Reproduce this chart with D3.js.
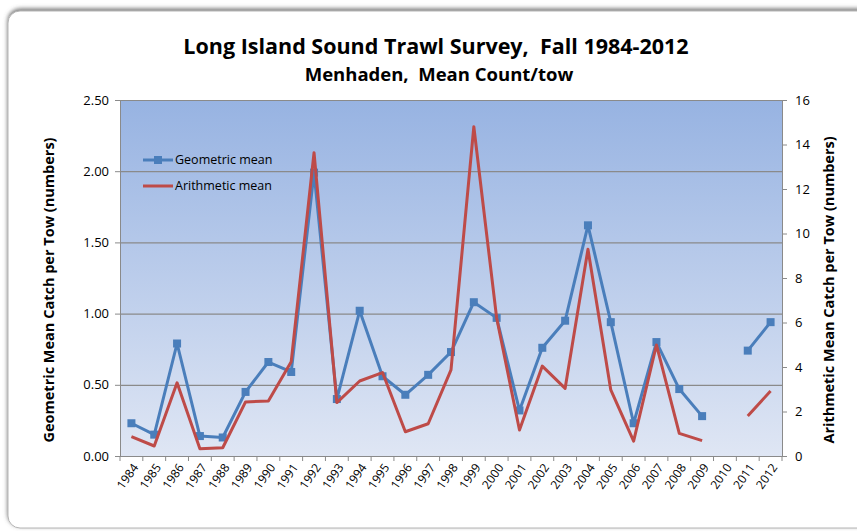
<!DOCTYPE html>
<html>
<head>
<meta charset="utf-8">
<script src="https://cdn.jsdelivr.net/npm/d3@7"></script>
<style>
  body { margin: 0; background: #fff; }
  text { font-family: "Open Sans", "Noto Sans", sans-serif; fill: #000; }
  .keep { white-space: pre; }
</style>
</head>
<body>
<div id="chart"></div>
<script>
// survey years on the category axis
const years = d3.range(1984, 2013).map(String);

// geometric mean catch per tow (left axis), null = no survey
const geoMean = [0.23, 0.15, 0.79, 0.14, 0.13, 0.45, 0.66, 0.59, 1.99, 0.40,
  1.02, 0.56, 0.43, 0.57, 0.73, 1.08, 0.97, 0.32, 0.76, 0.95,
  1.62, 0.94, 0.23, 0.80, 0.47, 0.28, null, 0.74, 0.94];

// arithmetic mean catch per tow (right axis)
const ariMean = [0.87, 0.45, 3.29, 0.33, 0.37, 2.43, 2.47, 4.24, 13.63, 2.40,
  3.37, 3.75, 1.09, 1.45, 3.87, 14.80, 6.20, 1.17, 4.04, 3.04,
  9.29, 2.97, 0.67, 4.99, 1.02, 0.69, null, 1.80, 2.92];

const leftTicks = [0, 0.5, 1, 1.5, 2, 2.5];
const rightTicks = [0, 2, 4, 6, 8, 10, 12, 14, 16];

const W = 857, H = 531;
const margin = {top: 100, right: 75, bottom: 75, left: 120},
  width = W - margin.left - margin.right,
  height = H - margin.top - margin.bottom;

const blue = "#4a7ebb", red = "#be4b48";

var svg = d3.select("#chart").append("svg")
  .attr("width", W).attr("height", H);

var defs = svg.append("defs");
var grad = defs.append("linearGradient").attr("id", "bg")
  .attr("x1", 0).attr("y1", 0).attr("x2", 0).attr("y2", 1);
grad.append("stop").attr("offset", "0%").attr("stop-color", "#97b3e2");
grad.append("stop").attr("offset", "100%").attr("stop-color", "#dfe6f4");

var shadow = defs.append("filter").attr("id", "shadow")
  .attr("x", "-5%").attr("y", "-5%").attr("width", "110%").attr("height", "110%");
shadow.append("feDropShadow").attr("dx", 0).attr("dy", -2)
  .attr("stdDeviation", 2).attr("flood-color", "#666").attr("flood-opacity", 0.9);

// chart frame (runs off the right edge like the source)
svg.append("rect")
  .attr("x", 8).attr("y", 11).attr("width", 880).attr("height", 517)
  .attr("rx", 12).attr("ry", 12)
  .attr("fill", "#fff").attr("stroke", "#b5b5b5").attr("stroke-width", 1)
  .attr("filter", "url(#shadow)");

// titles
svg.append("text").attr("class", "keep").attr("x", 436).attr("y", 54)
  .attr("text-anchor", "middle").style("font-weight", "bold").style("font-size", "21.5px")
  .text("Long Island Sound Trawl Survey,  Fall 1984-2012");
svg.append("text").attr("class", "keep").attr("x", 439).attr("y", 81)
  .attr("text-anchor", "middle").style("font-weight", "bold").style("font-size", "18.5px")
  .text("Menhaden,  Mean Count/tow");

var g = svg.append("g")
  .attr("transform", "translate(" + margin.left + "," + margin.top + ")");

var x = d3.scaleBand().domain(years).range([0, width]);
var xc = function (yr) { return x(yr) + x.bandwidth() / 2; };
var yL = d3.scaleLinear().domain([0, 2.5]).range([height, 0]);
var yR = d3.scaleLinear().domain([0, 16]).range([height, 0]);

// plot background
g.append("rect").attr("width", width).attr("height", height).attr("fill", "url(#bg)");

// gridlines from left axis
g.append("g").attr("class", "grid")
  .call(d3.axisLeft(yL).tickValues(leftTicks).tickSize(-width).tickFormat(""))
  .call(function (s) {
    s.select(".domain").remove();
    s.selectAll("line").attr("stroke", "#8a8a8a").attr("stroke-width", 1.2);
  });

// left axis
g.append("g")
  .call(d3.axisLeft(yL).tickValues(leftTicks).tickSize(5).tickSizeOuter(0).tickPadding(6)
    .tickFormat(d3.format(".2f")))
  .call(function (s) {
    s.selectAll("line, .domain").attr("stroke", "#8a8a8a");
    s.selectAll("text").style("font-size", "13px").style("font-family", "Open Sans");
  });

// right axis
g.append("g").attr("transform", "translate(" + width + ",0)")
  .call(d3.axisRight(yR).tickValues(rightTicks).tickSize(5).tickSizeOuter(0).tickPadding(8))
  .call(function (s) {
    s.selectAll("line, .domain").attr("stroke", "#8a8a8a");
    s.selectAll("text").style("font-size", "13px").style("font-family", "Open Sans");
  });

// bottom axis: ticks at category boundaries, labels rotated
var xAxis = g.append("g").attr("transform", "translate(0," + height + ")")
  .call(d3.axisBottom(x).tickSize(0).tickSizeOuter(0).tickPadding(0));
xAxis.select(".domain").attr("stroke", "#8a8a8a");
xAxis.selectAll("text")
  .style("font-size", "12px").style("font-family", "Open Sans")
  .attr("text-anchor", "end")
  .attr("transform", "translate(4,9) rotate(-55)")
  .attr("dy", "0.35em");
xAxis.selectAll(".bnd")
  .data(years.concat(["end"]))
  .enter().append("line")
  .attr("class", "bnd")
  .attr("x1", function (d) { return d === "end" ? width : x(d); })
  .attr("x2", function (d) { return d === "end" ? width : x(d); })
  .attr("y1", 0).attr("y2", 5)
  .attr("stroke", "#8a8a8a");

// axis titles
svg.append("text")
  .attr("transform", "translate(54,290) rotate(-90)")
  .attr("text-anchor", "middle").style("font-weight", "bold").style("font-size", "14.5px")
  .text("Geometric Mean Catch per Tow (numbers)");
svg.append("text")
  .attr("transform", "translate(834,290) rotate(-90)")
  .attr("text-anchor", "middle").style("font-weight", "bold").style("font-size", "14.5px")
  .text("Arithmetic Mean Catch per Tow (numbers)");

// lines
var geoLine = d3.line()
  .defined(function (d) { return d.v != null; })
  .x(function (d) { return xc(d.yr); })
  .y(function (d) { return yL(d.v); });
var ariLine = d3.line()
  .defined(function (d) { return d.v != null; })
  .x(function (d) { return xc(d.yr); })
  .y(function (d) { return yR(d.v); });

var geoData = years.map(function (yr, i) { return {yr: yr, v: geoMean[i]}; });
var ariData = years.map(function (yr, i) { return {yr: yr, v: ariMean[i]}; });

g.append("path").datum(geoData)
  .attr("d", geoLine).attr("fill", "none")
  .attr("stroke", blue).attr("stroke-width", 3).attr("stroke-linejoin", "round");

g.append("g").selectAll("rect")
  .data(geoData.filter(function (d) { return d.v != null; }))
  .enter().append("rect")
  .attr("x", function (d) { return xc(d.yr) - 4; })
  .attr("y", function (d) { return yL(d.v) - 4; })
  .attr("width", 8).attr("height", 8)
  .attr("fill", blue);

g.append("path").datum(ariData)
  .attr("d", ariLine).attr("fill", "none")
  .attr("stroke", red).attr("stroke-width", 3).attr("stroke-linejoin", "round");

// legend
var leg = svg.append("g").attr("transform", "translate(143,160)");
leg.append("line").attr("x1", 0).attr("x2", 30).attr("y1", 0).attr("y2", 0)
  .attr("stroke", blue).attr("stroke-width", 3);
leg.append("rect").attr("x", 11).attr("y", -4).attr("width", 8).attr("height", 8).attr("fill", blue);
leg.append("text").attr("x", 32).attr("y", 0).attr("dy", "0.35em")
  .style("font-size", "12.5px").text("Geometric mean");
leg.append("line").attr("x1", 0).attr("x2", 30).attr("y1", 26).attr("y2", 26)
  .attr("stroke", red).attr("stroke-width", 3);
leg.append("text").attr("x", 32).attr("y", 26).attr("dy", "0.35em")
  .style("font-size", "12.5px").text("Arithmetic mean");
</script>
</body>
</html>
